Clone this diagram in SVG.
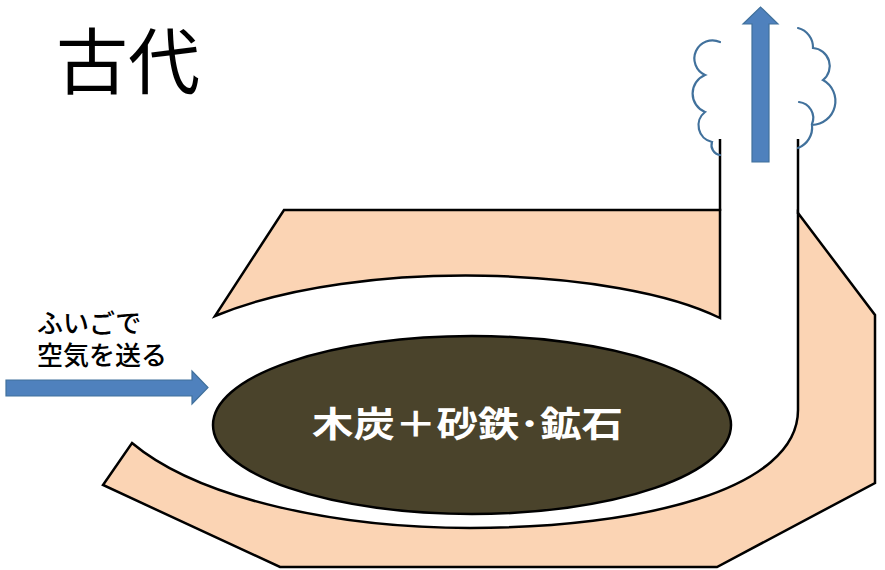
<svg xmlns="http://www.w3.org/2000/svg" width="885" height="570" viewBox="0 0 885 570">
  <style>
    .wall { fill: #FBD4B4; stroke: #000; stroke-width: 2.5; stroke-linejoin: miter; }
    .line { fill: none; stroke: #000; stroke-width: 2.5; }
    .arrow { fill: #4F81BD; stroke: #41719C; stroke-width: 1.2; }
    .smoke { fill: none; stroke: #41719C; stroke-width: 2.2; stroke-linecap: round; }
    .jp { font-family: "Noto Sans CJK JP", "Noto Sans CJK SC", sans-serif; }
  </style>
  <rect width="885" height="570" fill="#fff"/>

  <!-- title -->
  <g id="title">
    <text class="jp" x="56" y="88" font-size="72" fill="#000">古代</text>
  </g>

  <!-- upper furnace wall -->
  <g id="upper-wall">
    <path class="wall" d="M 284 210 L 720 210 L 720 318 C 620 268 360 256 215 316 Z"/>
  </g>

  <!-- lower furnace wall -->
  <g id="lower-wall">
    <path class="wall" d="M 132 443 C 200 500 340 528 470 528 C 640 528 798 490 798 410 L 798 213 L 875 315 L 875 483 L 717 567 L 280 567 L 103 485 Z"/>
  </g>

  <!-- charge of charcoal and iron sand -->
  <g id="charge">
    <ellipse cx="472" cy="425" rx="259" ry="89" fill="#4A432B" stroke="#000" stroke-width="2.5"/>
    <text class="jp" x="467.5" y="437" font-size="35" font-weight="bold" fill="#fff" text-anchor="middle" textLength="311" lengthAdjust="spacingAndGlyphs">木炭＋砂鉄･鉱石</text>
  </g>

  <!-- chimney walls above the furnace -->
  <g id="chimney">
    <line class="line" x1="720" y1="139" x2="720" y2="211"/>
    <line class="line" x1="798" y1="139" x2="798" y2="214"/>
  </g>

  <!-- smoke -->
  <g id="smoke">
    <path class="smoke" d="M 720 42 A 18 18 0 0 0 705 75 A 20 20 0 0 0 705 112 A 17 17 0 0 0 712 142 A 10 10 0 0 0 720 155"/>
    <path class="smoke" d="M 798 28 A 20 20 0 0 1 813 48 A 18 18 0 0 1 823 80 A 24 24 0 0 1 812 125 A 22 22 0 0 1 798 148"/>
    <path class="smoke" d="M 799 102 A 16 16 0 0 1 812 124"/>
  </g>

  <!-- bellows label -->
  <g id="bellows-label">
    <text class="jp" x="37" y="333" font-size="26" font-weight="500" fill="#000">ふいごで</text>
    <text class="jp" x="37" y="365" font-size="26" font-weight="500" fill="#000">空気を送る</text>
  </g>

  <!-- connectors: air in, exhaust out -->
  <g id="connectors">
    <path class="arrow" d="M 6 380 L 192 380 L 192 371 L 208 387.5 L 192 404 L 192 396 L 6 396 Z"/>
    <path class="arrow" d="M 752 162 L 752 24 L 743 24 L 760.5 7 L 778 24 L 769 24 L 769 162 Z"/>
  </g>
</svg>
